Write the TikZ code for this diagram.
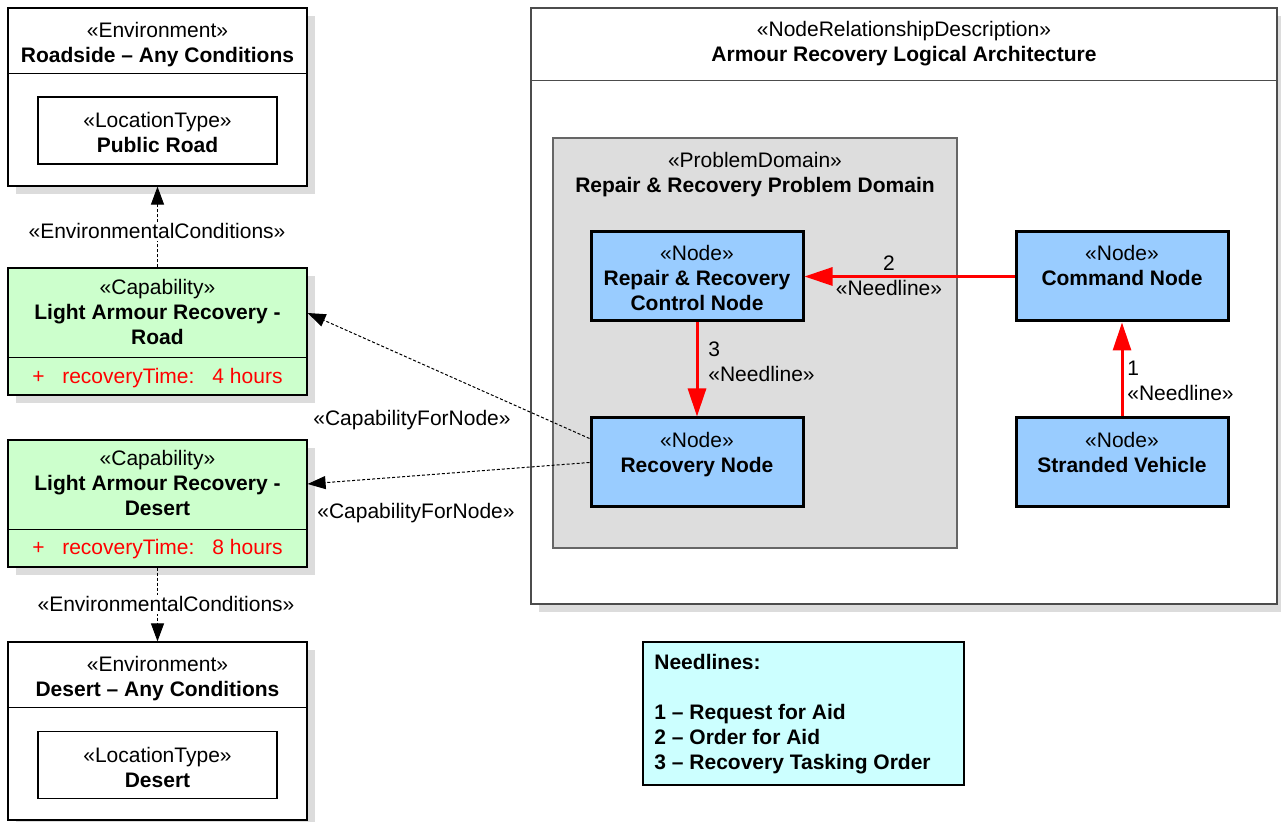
\documentclass[tikz,border=0pt]{standalone}
\usepackage{fontspec}
\setmainfont{Liberation Sans}
\usetikzlibrary{arrows.meta,shadows}
\definecolor{capgreen}{HTML}{CCFFCC}
\definecolor{nodeblue}{HTML}{99CCFF}
\definecolor{legendcyan}{HTML}{CCFFFF}
\definecolor{domaingrey}{HTML}{DDDDDD}
\definecolor{shadegrey}{HTML}{DCDCDC}

\begin{document}
\begin{tikzpicture}[x=0.5pt,y=-0.5pt,font=\fontsize{10.5}{12.5}\selectfont]
		\tikzset{box/.style = {draw, line width=0.6pt, inner sep=0pt, fill=white}}
		\tikzset{shade/.style = {drop shadow={shadow xshift=4pt, shadow yshift=-4pt, opacity=1, fill=shadegrey}}}
		\tikzset{envbox/.style = {box, shade, minimum width=149.5pt, minimum height=89pt}}
		\tikzset{locbox/.style = {box, minimum width=119.5pt, minimum height=33.5pt}}
		\tikzset{capbox/.style = {box, shade, fill=capgreen, minimum width=149.5pt, minimum height=63.5pt}}
		\tikzset{opnode/.style = {draw, line width=1.5pt, fill=nodeblue, inner sep=0pt, minimum width=106pt, minimum height=44.5pt}}
		\tikzset{txt/.style = {inner sep=0pt, align=center, anchor=base, yshift=-0.5pt}}
		\tikzset{dep/.style = {line width=0.5pt, dash pattern=on 1.5pt off 1pt, -{Triangle[length=9pt,width=6.5pt]}}}
		\tikzset{needline/.style = {red, line width=1.5pt, -{Triangle[length=14pt,width=9pt]}}}
		\tikzset{deplabel/.style = {fill=white, inner sep=1pt}}
		
		\useasboundingbox (0,0) rectangle (1281,822);
		
		% environments and capabilities (text nodes sit on their last baseline)
		\node[envbox]  (env1) at (157.5,  97) {};
		\draw[line width=0.6pt] ([yshift=-33pt]env1.north west) -- ([yshift=-33pt]env1.north east);
		\node[txt]     (env1t) at (157.5, 62) {«Environment»\\\textbf{Roadside – Any Conditions}};
		\node[locbox]  (loc1) at (157.5, 130.5) {};
		\node[txt]     (loc1t) at (157.5, 152) {«LocationType»\\\textbf{Public Road}};
		
		\node[capbox]  (cap1) at (157.5, 331.5) {};
		\draw[line width=0.6pt] ([yshift=-45pt]cap1.north west) -- ([yshift=-45pt]cap1.north east);
		\node[txt]     (cap1t) at (157.5, 344) {«Capability»\\\textbf{Light Armour Recovery -}\\\textbf{Road}};
		\node[txt, anchor=base west, red] (cap1a) at (32, 383) {+\hspace{8.8pt}recoveryTime:\hspace{9pt}4 hours};
		
		\node[capbox]  (cap2) at (157.5, 503.5) {};
		\draw[line width=0.6pt] ([yshift=-45pt]cap2.north west) -- ([yshift=-45pt]cap2.north east);
		\node[txt]     (cap2t) at (157.5, 515) {«Capability»\\\textbf{Light Armour Recovery -}\\\textbf{Desert}};
		\node[txt, anchor=base west, red] (cap2a) at (32, 554) {+\hspace{8.8pt}recoveryTime:\hspace{9pt}8 hours};
		
		\node[envbox]  (env2) at (157.5, 731) {};
		\draw[line width=0.6pt] ([yshift=-33pt]env2.north west) -- ([yshift=-33pt]env2.north east);
		\node[txt]     (env2t) at (157.5, 696) {«Environment»\\\textbf{Desert – Any Conditions}};
		\node[locbox]  (loc2) at (157.5, 765) {};
		\node[txt]     (loc2t) at (157.5, 787) {«LocationType»\\\textbf{Desert}};
		
		% logical architecture
		\node[box, shade, draw=black!70, minimum width=373pt, minimum height=298pt] (frame) at (904, 306) {};
		\draw[black!70, line width=0.6pt] ([yshift=-36.5pt]frame.north west) -- ([yshift=-36.5pt]frame.north east);
		\node[txt]     (framet) at (904, 61) {«NodeRelationshipDescription»\\\textbf{Armour Recovery Logical Architecture}};
		
		\node[box, draw=black!60, fill=domaingrey, minimum width=202pt, minimum height=205pt] (domain) at (755, 343) {};
		\node[txt]     (domaint) at (755, 192) {«ProblemDomain»\\\textbf{Repair \& Recovery Problem Domain}};
		
		\node[opnode]  (rrc) at (697, 276.5) {};
		\node[txt]     (rrct) at (697, 310) {«Node»\\\textbf{Repair \& Recovery}\\\textbf{Control Node}};
		\node[opnode]  (recov) at (697, 462.5) {};
		\node[txt]     (recovt) at (697, 472) {«Node»\\\textbf{Recovery Node}};
		\node[opnode]  (cmd) at (1122, 276.5) {};
		\node[txt]     (cmdt) at (1122, 285) {«Node»\\\textbf{Command Node}};
		\node[opnode]  (strand) at (1122, 462.5) {};
		\node[txt]     (strandt) at (1122, 472) {«Node»\\\textbf{Stranded Vehicle}};
		
		% legend
		\node[box, line width=1.2pt, fill=legendcyan, minimum width=160.5pt, minimum height=71.5pt] (legend) at (803.5, 713.5) {};
		\node[txt, align=left, anchor=base west] (legendt) at (654, 769) {\textbf{Needlines:}\\[12.5pt]\textbf{1 – Request for Aid}\\\textbf{2 – Order for Aid}\\\textbf{3 – Recovery Tasking Order}};
		
		% needlines
		\draw[needline] (strand) to (cmd);
		\draw[needline] (cmd) to (rrc);
		\draw[needline] (rrc) to (recov);
		\node[txt, align=left, anchor=west] (nl1) at (1127, 380) {1\\«Needline»};
		\node[txt, anchor=center] (nl2) at (889, 274.5) {2\\«Needline»};
		\node[txt, align=left, anchor=west] (nl3) at (708, 360.5) {3\\«Needline»};
		
		% dependencies
		\draw[dep] (cap1.north) to (env1.south);
		\node[txt, deplabel] (ec1) at (157, 238) {«EnvironmentalConditions»};
		\draw[dep] (cap2.south) to (env2.north);
		\node[txt, deplabel] (ec2) at (166, 611) {«EnvironmentalConditions»};
		\draw[dep] ([yshift=12pt]recov.west) to ([yshift=9.25pt]cap1.east);
		\node[txt]     (cfn1) at (412, 425) {«CapabilityForNode»};
		\draw[dep] ([yshift=0pt]recov.west) to ([yshift=9.75pt]cap2.east);
		\node[txt]     (cfn2) at (416, 518) {«CapabilityForNode»};
		\end{tikzpicture}
\end{document}
